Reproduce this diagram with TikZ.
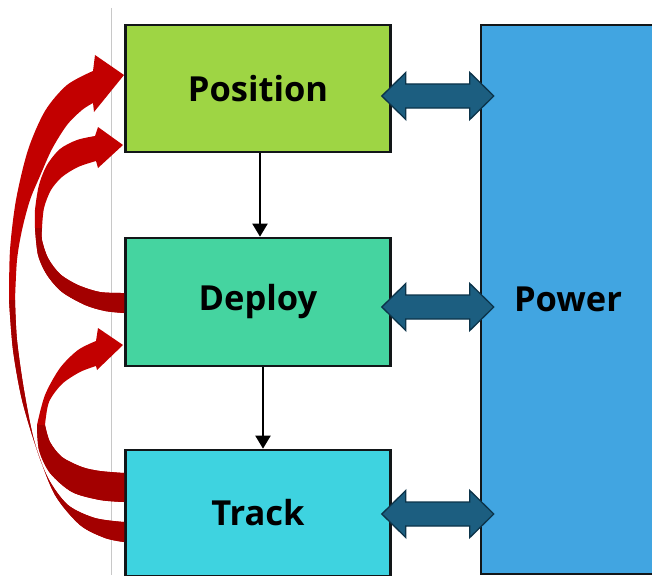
\documentclass[tikz,border=0pt]{standalone}
\usepackage{fontspec}
\setmainfont{Open Sans}
\usetikzlibrary{calc,arrows.meta}

\definecolor{posgreen}{RGB}{158,213,68}
\definecolor{depgreen}{RGB}{69,212,160}
\definecolor{trkcyan}{RGB}{62,211,224}
\definecolor{pwrblue}{RGB}{65,165,225}
\definecolor{boxline}{RGB}{18,22,24}
\definecolor{linkfill}{RGB}{28,94,128}
\definecolor{linkline}{RGB}{12,52,74}
\definecolor{ribbonred}{RGB}{194,0,0}
\definecolor{ribbondark}{RGB}{163,0,0}
\definecolor{guide}{RGB}{200,200,200}

% double-headed link between a stage box and the power bar
\newcommand{\powerlink}[2]{%
  \draw[link] ($(#1.east |- 0,#2)+(-10,0)$) -- ++(24,-23.5) -- ++(0,11.5)
    -- ++(64,0) -- ++(0,-11.5) -- ++(24,23.5) -- ++(-24,23.5) -- ++(0,-11.5)
    -- ++(-64,0) -- ++(0,11.5) -- cycle;}

\begin{document}
\begin{tikzpicture}[x=1pt,y=-1pt,
  box/.style={draw=boxline, line width=2.6pt, inner sep=0pt,
    font=\fontsize{34.5}{40}\selectfont\bfseries, text=black},
  flow/.style={draw=black, line width=2pt, -{Triangle[width=15pt,length=13pt]}},
  link/.style={fill=linkfill, draw=linkline, line width=1.3pt, line join=miter},
  ribbon/.style={fill=ribbonred},
  ribbonshade/.style={fill=ribbondark}]
\useasboundingbox (0,0) rectangle (652,575);
\clip (0,0) rectangle (652,575);

% thin guide line on the left
\draw[guide, line width=1pt] (111,8) -- (111,575);

% stage boxes and power bar
\node[box, fill=posgreen, minimum width=265pt, minimum height=127pt] (pos) at (258,88.5) {Position};
\node[box, fill=depgreen, minimum width=265pt, minimum height=128pt] (dep) at (258,302) {Deploy};
\node[box, fill=trkcyan, minimum width=265pt, minimum height=126pt] (trk) at (258,513) {Track};
\node[box, fill=pwrblue, minimum width=174pt, minimum height=549pt] (pwr) at (568,299.5) {Power};

% downward flow
\draw[flow] ($(pos.south)+(2,0)$) -- ($(dep.north)+(2,0)$);
\draw[flow] ($(dep.south)+(5,0)$) -- ($(trk.north)+(5,0)$);

% links to power
\powerlink{pos}{96}
\powerlink{dep}{307}
\powerlink{trk}{514}

% feedback ribbon: Track -> Position
\fill[ribbon]
  plot[smooth] coordinates {(15,300) (17,260) (22,230) (30,200) (40,176) (52,149) (67,125) (82,110) (93,103)}
  -- (94,112) -- (124,75) -- (95,55)
  -- plot[smooth] coordinates {(93,71) (67,85) (45,111) (28,150) (16,200) (10,250) (9,300)}
  -- plot[smooth] coordinates {(9,300) (13,350) (22,400) (37,450) (55,495) (80,525) (105,538) (124,542)}
  -- plot[smooth] coordinates {(124,522) (95,518) (68,505) (48,478) (34,440) (24,390) (17,340) (15,300)}
  -- cycle;
\fill[ribbonshade]
  plot[smooth] coordinates {(9,300) (13,350) (22,400) (37,450) (55,495) (80,525) (105,538) (124,542)}
  -- plot[smooth] coordinates {(124,522) (95,518) (68,505) (48,478) (34,440) (24,390) (17,340) (15,300)}
  -- cycle;

% feedback ribbon: Track -> Deploy
\fill[ribbon]
  plot[smooth] coordinates {(45,425) (49,402) (62,384) (80,372) (96,366)}
  -- (97,370) -- (123,345) -- (98,328)
  -- plot[smooth] coordinates {(96,341) (78,350) (60,368) (45,395) (37,425)}
  -- plot[smooth] coordinates {(37,425) (39,450) (50,473) (72,492) (100,500) (124,502)}
  -- plot[smooth] coordinates {(124,473) (100,471) (82,467) (62,457) (50,442) (45,425)}
  -- cycle;
\fill[ribbonshade]
  plot[smooth] coordinates {(37,425) (39,450) (50,473) (72,492) (100,500) (124,502)}
  -- plot[smooth] coordinates {(124,473) (100,471) (82,467) (62,457) (50,442) (45,425)}
  -- cycle;

% feedback ribbon: Deploy -> Position
\fill[ribbon]
  plot[smooth] coordinates {(42,228) (44,208) (51,190) (62,177) (78,167) (96,161)}
  -- (98,168) -- (123,145) -- (98,127)
  -- plot[smooth] coordinates {(95,136) (77,140) (60,149) (47,165) (39,185) (35,210) (35,228)}
  -- plot[smooth] coordinates {(35,228) (38,255) (47,275) (62,292) (85,305) (105,311) (124,313)}
  -- plot[smooth] coordinates {(124,293) (100,292) (78,285) (60,274) (48,258) (42,240) (42,228)}
  -- cycle;
\fill[ribbonshade]
  plot[smooth] coordinates {(35,228) (38,255) (47,275) (62,292) (85,305) (105,311) (124,313)}
  -- plot[smooth] coordinates {(124,293) (100,292) (78,285) (60,274) (48,258) (42,240) (42,228)}
  -- cycle;
\end{tikzpicture}
\end{document}
